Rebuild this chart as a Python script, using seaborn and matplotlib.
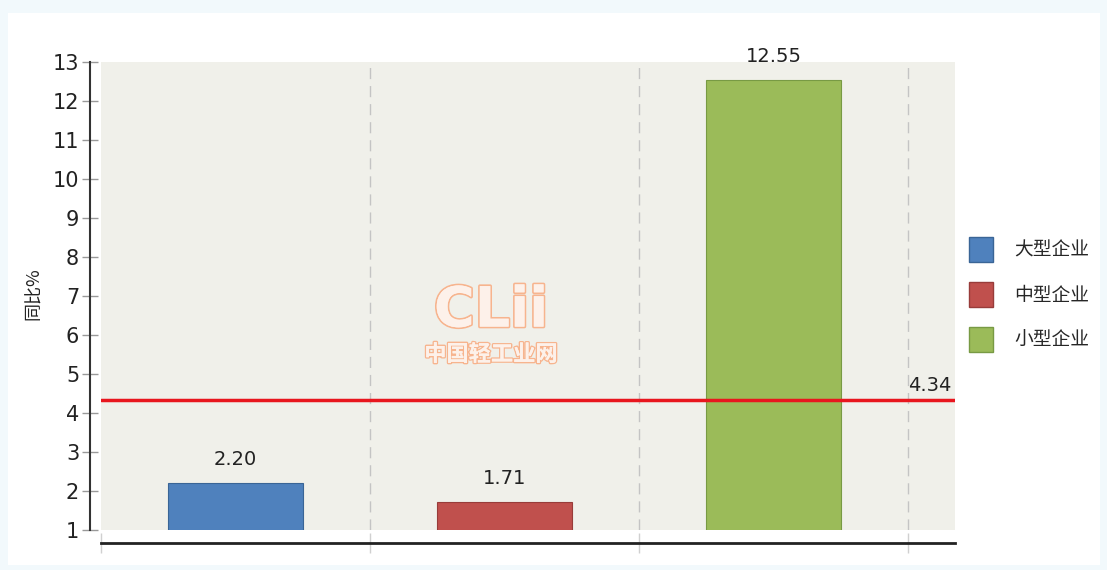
import matplotlib
matplotlib.use("Agg")
import matplotlib.pyplot as plt
import matplotlib.patheffects as pe
from matplotlib.patches import Rectangle
import seaborn as sns
import pandas as pd

# 数据
categories = ['大型企业', '中型企业', '小型企业']
values = [2.20, 1.71, 12.55]
avg_value = 4.34
colors = ['#4f81bd', '#c0504d', '#9bbb59']
edge_colors = ['#3a6596', '#983c3a', '#789a44']
y_ticks = list(range(1, 14))

df = pd.DataFrame({'category': categories, 'value': values})

sns.set_theme(style="white")
plt.rcParams['font.family'] = ['DejaVu Sans', 'Noto Sans CJK SC']

PX = 72 / 100  # 像素 -> 磅
fig = plt.figure(figsize=(11.07, 5.70), dpi=100, facecolor='#f2f9fc')
W, H = 1107, 570
# 白色面板
fig.patches.append(Rectangle((8 / W, 5 / H), 1092 / W, 552 / H, transform=fig.transFigure,
                             facecolor='white', edgecolor='none', zorder=-5))

ax = fig.add_axes([101 / W, 1 - 530 / H, 854 / W, 468 / H])
ax.set_facecolor('#f0f0ea')

sns.barplot(data=df, x='category', y='value', hue='category', palette=colors,
            saturation=1, width=0.5, legend=False, ax=ax, zorder=3)
for p, ec in zip(ax.patches, edge_colors):
    p.set_edgecolor(ec)
    p.set_linewidth(0.8)

ax.set_xlim(-0.5, 2.675)
ax.set_ylim(1, 13)
ax.set_yticks(y_ticks)
ax.set_xticks([-0.5, 0.5, 1.5, 2.5])
ax.set_xticklabels([])
ax.set_xlabel('')
ax.set_ylabel('同比%', fontsize=13, color='#222222', family=['Noto Sans CJK SC', 'DejaVu Sans'])
ax.yaxis.set_label_coords(-0.068, 0.505)

# 竖向虚线网格
for gx in [0.5, 1.5, 2.5]:
    ax.axvline(gx, linestyle=(0, (8, 5)), color='#c4c4c4', linewidth=1, zorder=1)

for s in ['top', 'right']:
    ax.spines[s].set_visible(False)
ax.spines['left'].set_position(('outward', 11 * PX))
ax.spines['left'].set_color('#333333')
ax.spines['left'].set_linewidth(1.5)
ax.spines['bottom'].set_position(('outward', 13 * PX))
ax.spines['bottom'].set_color('#222222')
ax.spines['bottom'].set_linewidth(2)
ax.tick_params(axis='y', direction='inout', length=16 * PX, color='#999999', width=1,
               pad=2, left=True, labelsize=15, labelcolor='#222222')
ax.tick_params(axis='x', direction='inout', length=20 * PX, color='#d0d0d0', width=1, bottom=True)

# 数值标签
for i, v in enumerate(values):
    ax.annotate(f'{v:.2f}', (i, v), xytext=(0, 10), textcoords='offset points',
                ha='center', va='bottom', fontsize=14,
                color='#222222', annotation_clip=False)

# 平均线
ax.axhline(avg_value, color='#e8161e', linewidth=2.5, zorder=4)
ax.text(2.66, avg_value + 0.12, f'{avg_value:.2f}', ha='right', va='bottom',
        fontsize=14, color='#222222', zorder=5)

# 水印
ax.text(0.95, 6.6, 'CLii', ha='center', va='center', fontsize=40, fontweight='bold',
        color='#fdf1ea', zorder=2,
        path_effects=[pe.withStroke(linewidth=2.5, foreground='#f7b48e'), pe.Normal()])
ax.text(0.95, 5.5, '中国轻工业网', ha='center', va='center', fontsize=16, fontweight='bold',
        color='#fdf1ea', zorder=2, family=['Noto Sans CJK SC'],
        path_effects=[pe.withStroke(linewidth=2, foreground='#f7b48e'), pe.Normal()])

# 图例
handles = [Rectangle((0, 0), 1, 1, facecolor=c, edgecolor=ec, linewidth=1)
           for c, ec in zip(colors, edge_colors)]
fig.legend(handles, categories, loc='upper left', bbox_to_anchor=(952 / W, 1 - 220 / H),
           frameon=False, handlelength=1.3, handleheight=1.7,
           labelspacing=1.05, handletextpad=1.1,
           prop={'family': ['Noto Sans CJK SC'], 'size': 13.5})

fig.savefig('out.png', dpi=100, facecolor=fig.get_facecolor())
